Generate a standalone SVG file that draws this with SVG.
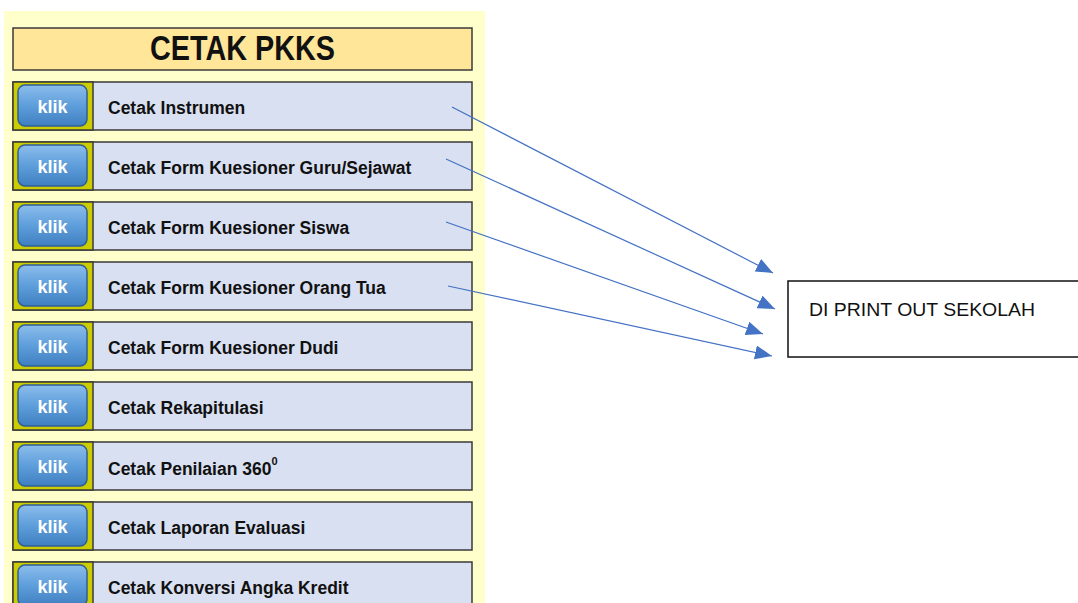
<svg xmlns="http://www.w3.org/2000/svg" width="1078" height="603" viewBox="0 0 1078 603">
<style>
.row{fill:#D9E0F1;stroke:#3a3a3a;stroke-width:1.5}
.cell{fill:#CCCC00;stroke:#3a3a3a;stroke-width:1.5}
.btn{fill:url(#bg);stroke:#2F5F96;stroke-width:1.5}
.klik{font-family:"Liberation Sans",Arial,sans-serif;font-weight:bold;font-size:18px;fill:#fff;text-anchor:middle}
.lbl{font-family:"Liberation Sans",Arial,sans-serif;font-weight:bold;font-size:17.5px;fill:#111}
.conn{stroke:#4472C4;stroke-width:1.2;fill:none}
</style>
<defs>
<linearGradient id="bg" x1="0" y1="0" x2="0" y2="1">
<stop offset="0" stop-color="#8BBDEB"/>
<stop offset="0.5" stop-color="#5E9EDB"/>
<stop offset="1" stop-color="#3F7FC0"/>
</linearGradient>
<marker id="ah" markerUnits="userSpaceOnUse" markerWidth="18" markerHeight="16" refX="17" refY="7" orient="auto">
<path d="M0,0 L17,7 L0,14 Z" fill="#4472C4"/>
</marker>
</defs>
<rect x="0" y="0" width="1078" height="603" fill="#fff"/>
<rect x="4" y="11" width="481" height="600" fill="#FFFFCC"/>
<g id="title">
<rect x="13" y="28" width="459" height="42" fill="#FFE699" stroke="#3a3a3a" stroke-width="1.5"/>
<text x="242.5" y="60" font-family="Liberation Sans,Arial,sans-serif" font-weight="bold" font-size="35" text-anchor="middle" textLength="185" lengthAdjust="spacingAndGlyphs" fill="#111">CETAK PKKS</text>
</g>
<g id="r1"><rect class="row" x="13" y="82" width="459" height="48"/><rect class="cell" x="13" y="82" width="80" height="48"/><rect class="btn" x="18" y="85" width="69" height="41" rx="7"/><text class="klik" x="52.5" y="113">klik</text><text class="lbl" x="108" y="114">Cetak Instrumen</text></g>
<g id="r2"><rect class="row" x="13" y="142" width="459" height="48"/><rect class="cell" x="13" y="142" width="80" height="48"/><rect class="btn" x="18" y="145" width="69" height="41" rx="7"/><text class="klik" x="52.5" y="173">klik</text><text class="lbl" x="108" y="174">Cetak Form Kuesioner Guru/Sejawat</text></g>
<g id="r3"><rect class="row" x="13" y="202" width="459" height="48"/><rect class="cell" x="13" y="202" width="80" height="48"/><rect class="btn" x="18" y="205" width="69" height="41" rx="7"/><text class="klik" x="52.5" y="233">klik</text><text class="lbl" x="108" y="234">Cetak Form Kuesioner Siswa</text></g>
<g id="r4"><rect class="row" x="13" y="262" width="459" height="48"/><rect class="cell" x="13" y="262" width="80" height="48"/><rect class="btn" x="18" y="265" width="69" height="41" rx="7"/><text class="klik" x="52.5" y="293">klik</text><text class="lbl" x="108" y="294">Cetak Form Kuesioner Orang Tua</text></g>
<g id="r5"><rect class="row" x="13" y="322" width="459" height="48"/><rect class="cell" x="13" y="322" width="80" height="48"/><rect class="btn" x="18" y="325" width="69" height="41" rx="7"/><text class="klik" x="52.5" y="353">klik</text><text class="lbl" x="108" y="354">Cetak Form Kuesioner Dudi</text></g>
<g id="r6"><rect class="row" x="13" y="382" width="459" height="48"/><rect class="cell" x="13" y="382" width="80" height="48"/><rect class="btn" x="18" y="385" width="69" height="41" rx="7"/><text class="klik" x="52.5" y="413">klik</text><text class="lbl" x="108" y="414">Cetak Rekapitulasi</text></g>
<g id="r7"><rect class="row" x="13" y="442" width="459" height="48"/><rect class="cell" x="13" y="442" width="80" height="48"/><rect class="btn" x="18" y="445" width="69" height="41" rx="7"/><text class="klik" x="52.5" y="473">klik</text><text class="lbl" x="108" y="475">Cetak Penilaian 360<tspan font-size="11" dy="-10">0</tspan></text></g>
<g id="r8"><rect class="row" x="13" y="502" width="459" height="48"/><rect class="cell" x="13" y="502" width="80" height="48"/><rect class="btn" x="18" y="505" width="69" height="41" rx="7"/><text class="klik" x="52.5" y="533">klik</text><text class="lbl" x="108" y="534">Cetak Laporan Evaluasi</text></g>
<g id="r9"><rect class="row" x="13" y="562" width="459" height="48"/><rect class="cell" x="13" y="562" width="80" height="48"/><rect class="btn" x="18" y="565" width="69" height="41" rx="7"/><text class="klik" x="52.5" y="593">klik</text><text class="lbl" x="108" y="594">Cetak Konversi Angka Kredit</text></g>
<g id="print">
<rect x="788" y="281" width="300" height="76" fill="#fff" stroke="#111" stroke-width="1.5"/>
<text x="809" y="316" font-family="Liberation Sans,Arial,sans-serif" font-size="19" textLength="226" lengthAdjust="spacingAndGlyphs" fill="#111">DI PRINT OUT SEKOLAH</text>
</g>
<g id="connectors">
<line class="conn" x1="452" y1="107" x2="773" y2="273" marker-end="url(#ah)"/>
<line class="conn" x1="446" y1="159" x2="775" y2="309" marker-end="url(#ah)"/>
<line class="conn" x1="446" y1="222" x2="763" y2="334" marker-end="url(#ah)"/>
<line class="conn" x1="448" y1="286" x2="772" y2="356" marker-end="url(#ah)"/>
</g>
</svg>
